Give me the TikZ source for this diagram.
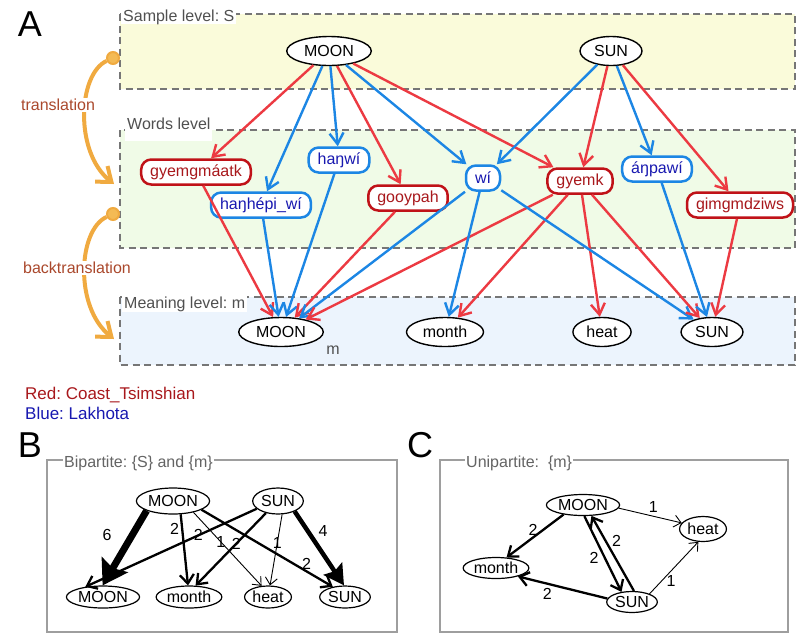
\documentclass[tikz,border=0pt]{standalone}
\usepackage{fontspec}
\setmainfont{Liberation Sans}
\usepackage{tikz}
\usetikzlibrary{arrows.meta}
\usetikzlibrary{shapes.geometric}
\frenchspacing
\newcommand{\labelfont}{\fontsize{16}{19}\selectfont}
\newcommand{\legendfont}{\fontsize{17}{20}\selectfont}
\newcommand{\panelfont}{\fontsize{36}{40}\selectfont}
\definecolor{edgered}{RGB}{236,58,66}
\definecolor{edgeblue}{RGB}{28,134,228}
\definecolor{wordred}{RGB}{192,18,24}
\definecolor{textred}{RGB}{168,24,28}
\definecolor{textblue}{RGB}{24,24,176}
\definecolor{samplefill}{RGB}{250,251,218}
\definecolor{wordsfill}{RGB}{240,251,231}
\definecolor{meaningfill}{RGB}{236,244,253}
\definecolor{dashgray}{RGB}{118,118,118}
\definecolor{levelgray}{RGB}{80,80,80}
\definecolor{arcorange}{RGB}{240,170,64}
\definecolor{dotorange}{RGB}{244,186,84}
\definecolor{arctext}{RGB}{170,72,44}
\definecolor{boxgray}{RGB}{158,158,158}
\definecolor{boxtext}{RGB}{100,100,100}
\tikzstyle{levelbox}=[draw=dashgray, line width=1.4pt, dash pattern=on 7pt off 4.5pt]
\tikzstyle{levellabel}=[anchor=south west, fill=white, text=levelgray, inner xsep=2pt, inner ysep=1pt, font=\labelfont]
\tikzstyle{meaning}=[ellipse, draw, fill=white, line width=1.4pt, inner xsep=5pt, inner ysep=2pt, minimum height=29pt, font=\labelfont]
\tikzstyle{word}=[draw, fill=white, rounded corners=10pt, line width=2.5pt, inner xsep=9pt, inner ysep=0pt, minimum height=25pt, font=\labelfont]
\tikzstyle{rword}=[word, draw=wordred, text=textred]
\tikzstyle{bword}=[word, draw=edgeblue, text=textblue]
\tikzstyle{redge}=[draw=edgered, line width=2.4pt, -{Straight Barb[length=11pt,width=14pt]}]
\tikzstyle{bedge}=[redge, draw=edgeblue]
\tikzstyle{dot}=[circle, fill=dotorange, draw=arcorange, line width=2pt, minimum size=12pt, inner sep=0]
\tikzstyle{transarc}=[draw=arcorange, line width=4pt, -{Straight Barb[length=13pt,width=20pt]}]
\tikzstyle{arclabel}=[fill=white, text=arctext, inner sep=1pt, font=\labelfont]
\tikzstyle{panel}=[font=\panelfont, inner sep=0]
\tikzstyle{netbox}=[draw=boxgray, line width=1.3pt]
\tikzstyle{boxlabel}=[anchor=west, fill=white, text=boxtext, inner xsep=1pt, font=\labelfont]
\tikzstyle{vertex}=[ellipse, draw, fill=white, line width=1.2pt, inner xsep=1pt, inner ysep=0pt, minimum height=22pt, font=\labelfont]
\tikzstyle{wone}=[line width=0.9pt, -{Straight Barb[length=7pt,width=12pt]}]
\tikzstyle{wtwo}=[line width=2.3pt, -{Straight Barb[length=9pt,width=14pt]}]
\tikzstyle{wfour}=[line width=4.5pt, -{Stealth[length=20pt,width=22pt,inset=3pt]}]
\tikzstyle{wsix}=[line width=7pt, -{Stealth[length=24pt,width=30pt,inset=4pt]}]
\tikzstyle{weight}=[font=\labelfont, inner sep=1pt]

\begin{document}
\begin{tikzpicture}[x=1pt, y=-1pt]
    \useasboundingbox (0,0) rectangle (799,633);
    % levels
    \filldraw[levelbox, fill=samplefill] (120,14) rectangle (795,89);
    \filldraw[levelbox, fill=wordsfill] (120,130) rectangle (795,248);
    \filldraw[levelbox, fill=meaningfill] (120,297) rectangle (795,365);
    \node[levellabel, text depth=1pt] (samplelbl) at (121,24) {Sample level: S};
    \node[levellabel, text depth=10pt] (wordslbl) at (125,141) {Words level};
    \node[levellabel, text depth=2pt] (meaninglbl) at (122,312) {Meaning level: m};
    \node[panel] (labA) at (30,24) {A};

    % translation arcs
    \node[dot] (trans) at (113,58) {};
    \coordinate (transend) at (114,184);
    \draw[transarc] (trans) .. controls (78,74) and (74,152) .. (transend);
    \node[arclabel] (translbl) at (58,105) {translation};
    \node[dot] (back) at (113,214) {};
    \coordinate (backend) at (114,339);
    \draw[transarc] (back) .. controls (78,230) and (74,307) .. (backend);
    \node[arclabel] (backlbl) at (77,268) {backtranslation};

    \node[meaning] (sMOON) at (329,51) {MOON};
    \node[meaning] (sSUN) at (611,51) {SUN};

    \node[rword] (gyemgmaatk) at (196,172) {gyemgmáatk};
    \node[bword] (hanhepiwi) at (261,205) {haŋhépi\_wí};
    \node[bword] (hanwi) at (339,160) {haŋwí};
    \node[rword] (gooypah) at (408,198) {gooypah};
    \node[bword] (wi) at (483,178) {wí};
    \node[rword] (gyemk) at (580,181) {gyemk};
    \node[bword] (anpawi) at (657,169) {áŋpawí};
    \node[rword] (gimgmdziws) at (740,205) {gimgmdziws};

    \node[meaning] (mMOON) at (281,332) {MOON};
    \node[meaning] (mmonth) at (445,332) {month};
    \node[meaning] (mheat) at (602,332) {heat};
    \node[meaning] (mSUN) at (712,332) {SUN};
    \node[text=levelgray, font=\labelfont] (mlbl) at (333,350) {m};

    \draw[redge] (sMOON) -- (gyemgmaatk);
    \draw[bedge] (sMOON) -- (hanhepiwi);
    \draw[bedge] (sMOON) -- (hanwi);
    \draw[redge] (sMOON) -- (gooypah);
    \draw[bedge] (sMOON) -- (wi);
    \draw[redge] (sMOON) -- (gyemk);
    \draw[bedge] (sSUN) -- (wi);
    \draw[redge] (sSUN) -- (gyemk);
    \draw[bedge] (sSUN) -- (anpawi);
    \draw[redge] (sSUN) -- (gimgmdziws);

    \draw[redge] (gyemgmaatk) -- (mMOON);
    \draw[bedge] (hanhepiwi) -- (mMOON);
    \draw[bedge] (hanwi) -- (mMOON);
    \draw[redge] (gooypah) -- (mMOON);
    \draw[bedge] (wi) -- (mMOON);
    \draw[redge] (gyemk) -- (mMOON);
    \draw[bedge] (wi) -- (mmonth);
    \draw[redge] (gyemk) -- (mmonth);
    \draw[redge] (gyemk) -- (mheat);
    \draw[bedge] (wi) -- (mSUN);
    \draw[redge] (gyemk) -- (mSUN);
    \draw[bedge] (anpawi) -- (mSUN);
    \draw[redge] (gimgmdziws) -- (mSUN);

    \node[anchor=west, text=textred, font=\legendfont, inner sep=0] (legred) at (25,395) {Red: Coast\_Tsimshian};
    \node[anchor=west, text=textblue, font=\legendfont, inner sep=0] (legblue) at (25,413) {Blue: Lakhota};

    % bipartite
    \node[panel] (labB) at (30,445) {B};
    \draw[netbox] (47,460) rectangle (397,632);
    \node[boxlabel] (bilbl) at (63,463) {Bipartite: \{S\} and \{m\}};
    \node[vertex, minimum height=26pt] (bMOON) at (173,501) {MOON};
    \node[vertex, minimum height=26pt] (bSUN) at (278,501) {SUN};
    \node[vertex] (bmMOON) at (103,597) {MOON};
    \node[vertex] (bmonth) at (189,597) {month};
    \node[vertex] (bheat) at (268,597) {heat};
    \node[vertex] (bmSUN) at (345,597) {SUN};
    \draw[wsix] (bMOON.200) -- node[weight, pos=.33, left=16pt] {6} (bmMOON.92);
    \draw[wtwo] (bMOON.-60) -- node[weight, pos=.2, left=1pt] {2} (bmonth.95);
    \draw[wone] (bMOON.-29) -- node[weight, pos=.4] {1} (bheat.120);
    \draw[wtwo] (bMOON.-17) -- node[weight, pos=.8, above] {2} (bmSUN.140);
    \draw[wtwo] (bSUN.200) -- node[weight, pos=.34] {2} (bmMOON.150);
    \draw[wtwo] (bSUN.225) -- node[weight, pos=.42] {2} (bmonth.60);
    \draw[wone] (bSUN.-73) -- node[weight, pos=.4] {1} (bheat.80);
    \draw[wfour] (bSUN.-32) -- node[weight, pos=.26, right=8pt] {4} (bmSUN.95);

    % unipartite
    \node[panel] (labC) at (420,445) {C};
    \draw[netbox] (440,460) rectangle (788,632);
    \node[boxlabel] (unilbl) at (465,463) {Unipartite:\ \ \{m\}};
    \node[vertex, minimum height=21pt] (cMOON) at (583,505) {MOON};
    \node[vertex, minimum height=25pt] (cheat) at (703,529) {heat};
    \node[vertex, minimum height=21pt] (cmonth) at (496,568) {month};
    \node[vertex, minimum height=21pt] (cSUN) at (632,602) {SUN};
    \draw[wone] (cMOON.-5) -- node[weight, pos=.55, above=2pt] {1} (cheat.164);
    \draw[wtwo] (cMOON.206) -- node[weight, pos=.35, left=4pt] {2} (cmonth.45);
    \draw[wtwo] (cMOON.-83) -- node[weight, pos=.55, left=4pt] {2} (cSUN.136);
    \draw[wtwo] (cSUN.80) -- node[weight, pos=.66, right=4pt] {2} (cMOON.-52);
    \draw[wtwo] (cSUN.172) -- node[weight, pos=.67, below=2pt] {2} (cmonth.-21);
    \draw[wone] (cSUN.25) -- node[weight, pos=.24, right=4pt] {1} (cheat.-110);
\end{tikzpicture}
\end{document}
